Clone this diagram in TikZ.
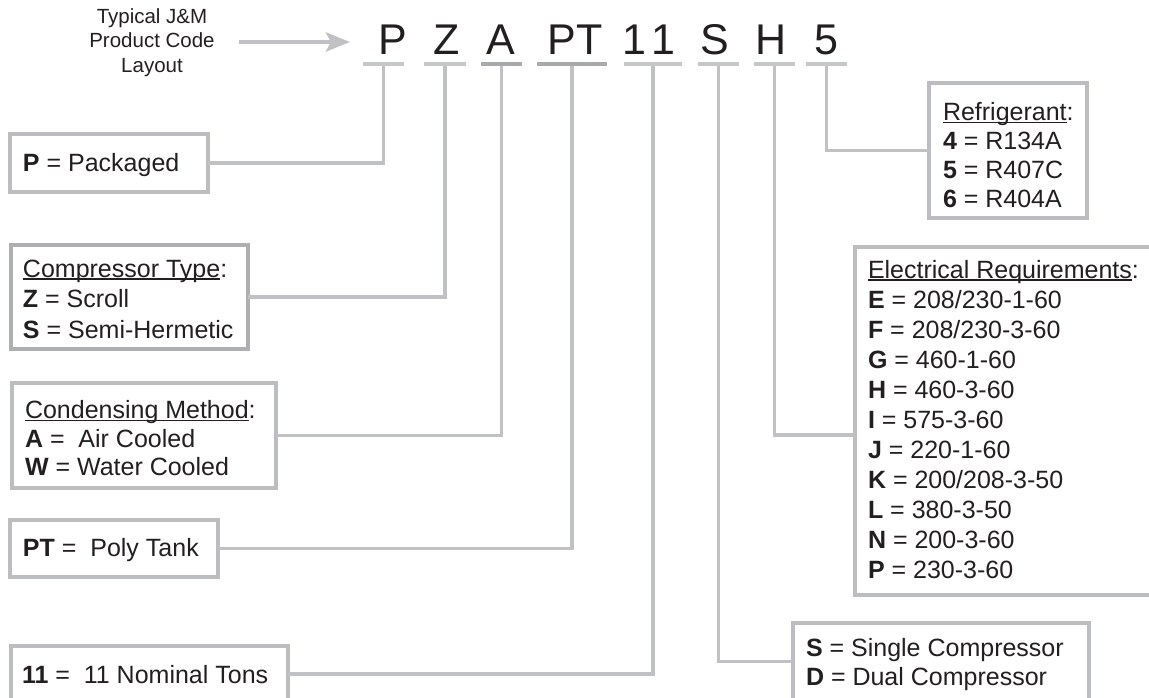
\documentclass[tikz,border=0pt]{standalone}
\usepackage{fontspec}
\setmainfont{Liberation Sans}
\usetikzlibrary{arrows.meta}
\definecolor{txtc}{HTML}{231F20}
\definecolor{linegray}{HTML}{C0C1C4}
\definecolor{boxgray}{HTML}{BCBDC0}
\definecolor{boxdark}{HTML}{AEAFB2}
\definecolor{darkbar}{HTML}{A7A9AC}
\definecolor{lightbar}{HTML}{C6C7C9}
\newcommand\myul[1]{\leavevmode\setbox0=\hbox{#1}\rlap{\rule[-2.6pt]{\wd0}{1.2pt}}\box0}
\newcommand\bodyfont{\fontsize{25}{29}\selectfont}
\newcommand\lines[2]{\parbox[t]{330pt}{\fontsize{25}{#1}\selectfont #2}}
\begin{document}
\begin{tikzpicture}[x=1pt,y=-1pt,
  box/.style={draw=boxgray, line width=3.5pt, fill=white, rectangle, inner sep=0pt, outer sep=0pt, anchor=north west},
  txt/.style={anchor=base west, inner sep=0pt, outer sep=0pt, text=txtc, font=\bodyfont},
  bar/.style={fill=lightbar, rectangle, minimum height=4pt, inner sep=0pt, outer sep=0pt},
  code/.style={font=\fontsize{43}{43}\selectfont, text=txtc, anchor=base, inner sep=0pt},
  conn/.style={draw=linegray, line width=3.5pt}]
\useasboundingbox (0,0) rectangle (1149,697);
\clip (0,0) rectangle (1149,697);

% title and arrow
\node[anchor=base, inner sep=0pt, text=txtc] (title) at (152,23)
  {\parbox[t]{160pt}{\centering\fontsize{20.5}{24.5}\selectfont Typical J\&M\\Product Code\\Layout}};
\coordinate (astart) at (239,42);
\coordinate (aend) at (350,42);
\draw[draw=linegray, line width=4.5pt, -{Stealth[length=24pt,width=19pt,inset=5pt,fill=linegray]}] (astart) -- (aend);

% code letters
\node[code] (cP) at (393,54) {P};
\node[code] (cZ) at (446.5,54) {Z};
\node[code] (cA) at (501,54) {A};
\node[code] (cPT) at (575,54) {PT};
\node[code] (c11) at (649,54) {1\kern5pt 1};
\node[code] (cS) at (714.5,54) {S};
\node[code] (cH) at (771.5,54) {H};
\node[code] (c5) at (826,54) {5};

% bars
\node[bar, minimum width=41pt] (pbar) at (383.5,64) {};
\node[bar, minimum width=42pt] (zbar) at (445,64) {};
\node[bar, minimum width=41pt, fill=darkbar] (abar) at (501.5,64) {};
\node[bar, minimum width=70pt, fill=darkbar] (ptbar) at (572,64) {};
\node[bar, minimum width=58pt] (tbar) at (653,64) {};
\node[bar, minimum width=41pt] (sbar) at (718.5,64) {};
\node[bar, minimum width=41pt] (hbar) at (774.5,64) {};
\node[bar, minimum width=41pt] (rbar) at (826.5,64) {};

% boxes
\node[box, minimum width=198pt, minimum height=58pt] (pbox) at (10,134) {};
\node[box, draw=boxdark, minimum width=237pt, minimum height=104pt] (cbox) at (11,245) {};
\node[box, minimum width=264pt, minimum height=105pt] (mbox) at (12,383) {};
\node[box, minimum width=208pt, minimum height=57pt] (ptbox) at (10,520) {};
\node[box, minimum width=277pt, minimum height=56pt] (tbox) at (11,646) {};
\node[box, minimum width=158pt, minimum height=135pt] (rbox) at (929,83) {};
\node[box, minimum width=320pt, minimum height=348pt] (ebox) at (855,247) {};
\node[box, minimum width=296pt, minimum height=77pt] (sbox) at (793,623) {};

% connectors
\draw[conn] (pbox.east) -| (pbar.south);
\draw[conn] (cbox.east) -| (zbar.south);
\draw[conn] (mbox.east) -| (abar.south);
\draw[conn] (ptbox.east) -| (ptbar.south);
\draw[conn] (tbox.east) -| (tbar.south);
\draw[conn] (sbox.west) -| (sbar.south);
\draw[conn] ([yshift=-14pt]ebox.west) -| (hbar.south);
\draw[conn] (rbox.west) -| (rbar.south);

% texts
\node[txt] (ptext) at (23,171.5) {\lines{29}{\textbf{P} = Packaged}};
\node[txt] (ctext) at (23,277) {\lines{30.5}{\myul{Compressor Type}:\\\textbf{Z} = Scroll\\\textbf{S} = Semi-Hermetic}};
\node[txt] (mtext) at (25,418.5) {\lines{28.5}{\myul{Condensing Method}:\\\textbf{A} =\ \ Air Cooled\\\textbf{W} = Water Cooled}};
\node[txt] (pttext) at (23,556.5) {\lines{29}{\textbf{PT} =\ \ Poly Tank}};
\node[txt] (ttext) at (22,683.5) {\lines{29}{\textbf{11} =\ \ 11 Nominal Tons}};
\node[txt] (rtext) at (943,120.5) {\lines{29}{\myul{Refrigerant}:\\\textbf{4} = R134A\\\textbf{5} = R407C\\\textbf{6} = R404A}};
\node[txt] (etext) at (868,278) {\lines{30}{\myul{Electrical Requirements}:\\
  \textbf{E} = 208/230-1-60\\
  \textbf{F} = 208/230-3-60\\
  \textbf{G} = 460-1-60\\
  \textbf{H} = 460-3-60\\
  \textbf{I} = 575-3-60\\
  \textbf{J} = 220-1-60\\
  \textbf{K} = 200/208-3-50\\
  \textbf{L} = 380-3-50\\
  \textbf{N} = 200-3-60\\
  \textbf{P} = 230-3-60}};
\node[txt] (stext) at (806,656.5) {\lines{29}{\textbf{S} = Single Compressor\\\textbf{D} = Dual Compressor}};
\end{tikzpicture}
\end{document}
